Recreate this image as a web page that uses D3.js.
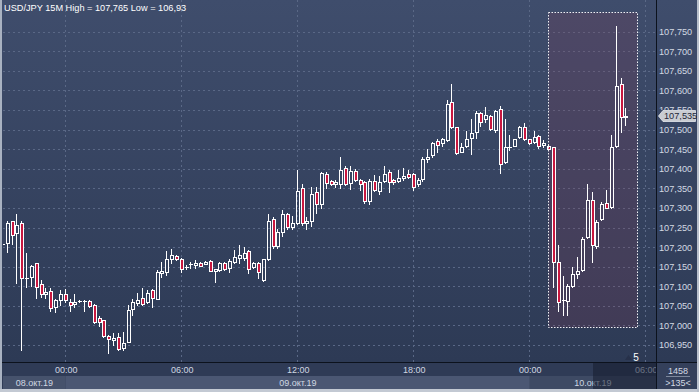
<!DOCTYPE html>
<html><head><meta charset="utf-8">
<script src="https://cdn.jsdelivr.net/npm/d3@7"></script>
<style>html,body{margin:0;padding:0;background:#34415d;overflow:hidden}svg{display:block}text{font-family:"Liberation Sans",Arial,sans-serif}</style>
</head><body><svg id="c" width="699" height="392"></svg>
<script>
// ---------------- data ----------------
const symbol = "USD/JPY 15M";
const firstBar = "2019-10-08T20:45:00Z";   // 15-minute bars
const opens = [107.208,107.210,107.266,107.235,107.262,107.122,107.124,107.159,107.106,107.080,
107.089,107.047,107.065,107.079,107.061,107.054,107.063,107.063,107.063,107.052,
107.018,107.014,106.974,106.963,106.970,106.943,106.958,107.041,107.058,107.069,
107.059,107.090,107.067,107.135,107.137,107.169,107.178,107.169,107.150,107.156,
107.154,107.159,107.157,107.164,107.139,107.141,107.159,107.147,107.163,107.173,
107.171,107.190,107.148,107.159,107.116,107.169,107.271,107.203,107.239,107.284,
107.251,107.261,107.350,107.261,107.267,107.341,107.310,107.387,107.370,107.360,
107.361,107.401,107.364,107.395,107.371,107.365,107.318,107.370,107.344,107.370,
107.391,107.371,107.370,107.376,107.387,107.387,107.360,107.373,107.425,107.434,
107.471,107.465,107.474,107.570,107.506,107.444,107.459,107.479,107.495,107.542,
107.526,107.535,107.499,107.552,107.417,107.455,107.459,107.480,107.506,107.475,
107.469,107.484,107.461,107.459,107.455,107.163,107.064,107.063,107.101,107.131,
107.141,107.225,107.320,107.203,107.271,107.313,107.303,107.458,107.617,107.533];
const highs = [107.210,107.267,107.267,107.285,107.266,107.185,107.154,107.159,107.116,107.096,
107.096,107.067,107.090,107.092,107.067,107.080,107.065,107.065,107.065,107.055,
107.025,107.015,106.975,106.981,106.980,106.984,107.053,107.067,107.084,107.095,
107.090,107.093,107.141,107.162,107.190,107.195,107.180,107.171,107.154,107.162,
107.166,107.162,107.164,107.166,107.145,107.162,107.162,107.170,107.193,107.205,
107.201,107.193,107.162,107.162,107.170,107.285,107.277,107.246,107.295,107.287,
107.279,107.397,107.361,107.278,107.354,107.354,107.392,107.393,107.371,107.371,
107.429,107.407,107.407,107.399,107.374,107.369,107.374,107.384,107.382,107.407,
107.398,107.374,107.398,107.403,107.397,107.389,107.376,107.431,107.451,107.468,
107.476,107.479,107.576,107.617,107.507,107.465,107.497,107.526,107.548,107.544,
107.557,107.537,107.550,107.560,107.526,107.486,107.477,107.508,107.518,107.477,
107.497,107.486,107.474,107.461,107.456,107.205,107.126,107.106,107.150,107.175,
107.227,107.361,107.341,107.269,107.316,107.346,107.486,107.765,107.632,107.554];
const lows = [107.205,107.188,107.208,107.109,106.937,107.099,107.101,107.069,107.073,107.070,
107.037,107.034,107.052,107.060,107.038,107.047,107.060,107.037,107.048,107.006,
106.998,106.970,106.930,106.950,106.937,106.938,106.957,107.027,107.052,107.053,
107.057,107.048,107.067,107.124,107.129,107.159,107.168,107.137,107.144,107.147,
107.147,107.152,107.156,107.139,107.110,107.138,107.141,107.137,107.159,107.159,
107.167,107.135,107.147,107.120,107.113,107.167,107.198,107.197,107.228,107.246,
107.246,107.259,107.256,107.245,107.254,107.288,107.299,107.350,107.359,107.354,
107.350,107.359,107.348,107.369,107.346,107.313,107.309,107.343,107.336,107.366,
107.340,107.361,107.366,107.371,107.376,107.346,107.356,107.369,107.418,107.429,
107.443,107.458,107.471,107.504,107.438,107.442,107.456,107.438,107.479,107.510,
107.520,107.499,107.495,107.390,107.415,107.448,107.457,107.479,107.474,107.463,
107.467,107.454,107.455,107.448,107.099,107.037,107.027,107.027,107.098,107.121,
107.139,107.223,107.163,107.198,107.269,107.299,107.300,107.456,107.495,107.511];
const closes = [107.208,107.262,107.230,107.256,107.120,107.122,107.153,107.099,107.080,107.085,
107.044,107.065,107.081,107.065,107.052,107.059,107.063,107.062,107.050,107.010,
107.009,106.974,106.965,106.968,106.940,106.954,107.039,107.059,107.065,107.055,
107.084,107.069,107.137,107.139,107.169,107.180,107.170,107.143,107.150,107.157,
107.160,107.153,107.163,107.140,107.144,107.159,107.143,107.164,107.175,107.180,
107.186,107.143,107.159,107.137,107.169,107.267,107.203,107.239,107.284,107.251,
107.261,107.344,107.261,107.267,107.336,107.310,107.388,107.364,107.361,107.365,
107.397,107.361,107.395,107.371,107.361,107.318,107.370,107.346,107.365,107.387,
107.365,107.365,107.376,107.382,107.380,107.354,107.371,107.424,107.430,107.465,
107.461,107.475,107.565,107.506,107.440,107.455,107.476,107.491,107.543,107.520,
107.537,107.501,107.548,107.411,107.455,107.456,107.475,107.506,107.475,107.465,
107.480,107.459,107.465,107.450,107.163,107.060,107.065,107.101,107.131,107.139,
107.220,107.320,107.205,107.265,107.309,107.301,107.455,107.611,107.531,107.535];
const priceTicks = [106.95,107.00,107.05,107.10,107.15,107.20,107.25,107.30,107.35,107.40,
107.45,107.50,107.55,107.60,107.65,107.70,107.75];
const timeTicks = ["2019-10-09T00:00:00Z","2019-10-09T06:00:00Z","2019-10-09T12:00:00Z",
"2019-10-09T18:00:00Z","2019-10-10T00:00:00Z","2019-10-10T06:00:00Z"];
const dayStarts = ["2019-10-08T00:00:00Z","2019-10-09T00:00:00Z","2019-10-10T00:00:00Z"];
const dayLabels = ["08.окт.19","09.окт.19","10.окт.19"];
const selStart = "2019-10-10T01:00:00Z", selEnd = "2019-10-10T05:30:00Z";
const selHigh = 107.800, selLow = 106.995;
const cornerTop = "1458", cornerBottom = ">135<", markerLabel = "5";

// ---------------- setup ----------------
const W = 699, H = 392, L = 3, R = 656, T = 0, B = 362;
const svg = d3.select("#c");
const loc = d3.formatLocale({decimal: ",", thousands: "\u00a0", grouping: [3], currency: ["", ""]});
const f3 = loc.format(".3f"), f3t = loc.format(".3~f");
const t0 = new Date(firstBar);
const times = opens.map((d, i) => new Date(t0.getTime() + i * 15 * 60000));
const x = d3.scaleUtc().domain([t0, new Date(t0.getTime() + 133 * 15 * 60000)]).range([3, 645.8]);
const y = d3.scaleLinear().domain([106.95, 107.75]).range([345, 31.7]);

const defs = svg.append("defs");
const g1 = defs.append("linearGradient").attr("id", "bg").attr("x1", 0).attr("x2", 0).attr("y1", 0).attr("y2", 1);
g1.append("stop").attr("offset", 0).attr("stop-color", "#3f4d6c");
g1.append("stop").attr("offset", 1).attr("stop-color", "#2d3a55");
defs.append("clipPath").attr("id", "plot").append("rect").attr("x", L).attr("y", T).attr("width", R - L).attr("height", B - T);
defs.append("clipPath").attr("id", "taxis").append("rect").attr("x", L).attr("y", 0).attr("width", R - L).attr("height", 30);

svg.append("rect").attr("x", 0).attr("y", 0).attr("width", W).attr("height", B).attr("fill", "url(#bg)");

// gridlines
const grid = svg.append("g").attr("clip-path", "url(#plot)");
grid.selectAll("line.h").data(priceTicks).join("line")
  .attr("x1", L).attr("x2", R).attr("y1", d => Math.round(y(d)) + 0.5).attr("y2", d => Math.round(y(d)) + 0.5)
  .attr("stroke", "#5a6886").attr("stroke-dasharray", "2,3");
grid.selectAll("line.v").data(timeTicks.map(d => new Date(d))).join("line")
  .attr("x1", d => Math.round(x(d)) - 0.5).attr("x2", d => Math.round(x(d)) - 0.5).attr("y1", T).attr("y2", B)
  .attr("stroke", "#5a6886").attr("stroke-dasharray", "2,3");

// selection box
const sx0 = Math.round(x(new Date(selStart))) - 0.5, sx1 = Math.round(x(new Date(selEnd))) + 1.5;
const sy0 = Math.round(y(selHigh)) + 0.5, sy1 = Math.round(y(selLow)) + 0.5;
svg.append("rect").attr("x", sx0).attr("y", sy0).attr("width", sx1 - sx0).attr("height", sy1 - sy0)
  .attr("fill", "rgba(130,60,85,0.22)");

// candles
const cg = svg.append("g").attr("clip-path", "url(#plot)");
opens.forEach((o, i) => {
  const c = Math.round(x(times[i]));
  const h = highs[i], l = lows[i], cl = closes[i];
  const wx = c - 0.5;
  const yt = Math.round(y(Math.max(o, cl))) + 0.5, yb = Math.round(y(Math.min(o, cl))) + 0.5;
  const yh = Math.round(y(h)), yl = Math.round(y(l)) + 1;
  if (yh < yt) cg.append("line").attr("x1", wx).attr("x2", wx).attr("y1", yh).attr("y2", yt).attr("stroke", "#ffffff");
  if (yl > yb) cg.append("line").attr("x1", wx).attr("x2", wx).attr("y1", yb).attr("y2", yl).attr("stroke", "#ffffff");
  if (yb - yt < 1) {
    cg.append("line").attr("x1", c - 2).attr("x2", c + 2).attr("y1", yt).attr("y2", yt).attr("stroke", "#ffffff");
  } else {
    cg.append("rect").attr("x", c - 1.5).attr("y", yt).attr("width", 3).attr("height", yb - yt)
      .attr("fill", cl < o ? "#c8173f" : "none").attr("stroke", "#ffffff").attr("stroke-width", 1);
  }
});

svg.append("rect").attr("x", sx0).attr("y", sy0).attr("width", sx1 - sx0).attr("height", sy1 - sy0)
  .attr("fill", "none").attr("stroke", "#f0f0f4").attr("stroke-dasharray", "1.5,1.5");

// header
svg.append("text").attr("x", 4).attr("y", 11).attr("fill", "#ffffff").attr("font-size", "9.2px")
  .text(`${symbol} High = ${f3t(d3.max(highs))} Low = ${f3t(d3.min(lows))}`);

// right axis
const last = closes[closes.length - 1], ly = Math.round(y(last));
const ra = svg.append("g").attr("transform", `translate(${R + 1},0)`)
  .call(d3.axisRight(y).tickValues(priceTicks).tickFormat(f3).tickSize(0).tickPadding(2));
ra.select(".domain").remove();
ra.selectAll("text").attr("fill", "#d3d9e3").attr("font-size", "9.2px").attr("font-family", "Liberation Sans, Arial, sans-serif");
// the label hidden under the price tag shows only its top sliver
defs.append("clipPath").attr("id", "tagcut").append("rect").attr("x", -5).attr("y", -20).attr("width", 60).attr("height", 20 + (ly - 6.5) - y(107.55));
ra.selectAll(".tick").filter(d => Math.abs(y(d) - ly) < 9).select("text").attr("clip-path", "url(#tagcut)");

// current price tag
svg.append("path").attr("d", `M658.5,${ly} L663,${ly - 5.5} L695.5,${ly - 5.5} L695.5,${ly + 5.5} L663,${ly + 5.5} Z`)
  .attr("fill", "#c9ccd2").attr("stroke", "#e6e8ec").attr("stroke-width", 0.8);
svg.append("text").attr("x", 664).attr("y", ly + 3.4).attr("font-size", "9.2px").attr("fill", "#1e2638").text(f3(last));

// bottom bands
svg.append("rect").attr("x", 0).attr("y", B).attr("width", W).attr("height", 27).attr("fill", "#2f3b56");
const dayX = dayStarts.map(d => {
  const s = new Date(d), e = new Date(s.getTime() + 86400000);
  return [Math.max(L, x(s)), Math.min(R, x(e))];
});
const dayFill = ["#46526c", "#4b5773", "#3e4a64"];
svg.selectAll("rect.day").data(dayX).join("rect").attr("x", d => d[0]).attr("y", 376)
  .attr("width", d => d[1] - d[0]).attr("height", 13).attr("fill", (d, i) => dayFill[i]);
svg.selectAll("text.day").data(dayX).join("text").attr("x", d => (d[0] + d[1]) / 2).attr("y", 386)
  .attr("text-anchor", "middle").attr("font-size", "9px").attr("fill", "#d0d7e2").text((d, i) => dayLabels[i]);

const ta = svg.append("g").attr("transform", `translate(0,${B + 0.5})`).attr("clip-path", "url(#taxis)")
  .call(d3.axisBottom(x).tickValues(timeTicks.map(d => new Date(d))).tickFormat(d3.utcFormat("%H:%M")).tickSize(0).tickPadding(4));
ta.select(".domain").remove();
ta.selectAll("text").attr("fill", "#d0d7e2").attr("font-size", "9px").attr("font-family", "Liberation Sans, Arial, sans-serif");

// dim overlay at right of time axis
svg.append("rect").attr("x", 593).attr("y", B + 1).attr("width", R - 593).attr("height", 26).attr("fill", "rgba(22,30,48,0.55)");

// frame lines
svg.append("line").attr("x1", 0).attr("x2", W).attr("y1", B + 0.5).attr("y2", B + 0.5).attr("stroke", "#0c121d");
svg.append("line").attr("x1", R + 0.5).attr("x2", R + 0.5).attr("y1", 0).attr("y2", 389).attr("stroke", "#0c121d");
svg.append("rect").attr("x", R + 1).attr("y", B + 1).attr("width", W - R - 1).attr("height", 26).attr("fill", "#34405b");
svg.append("text").attr("x", 678).attr("y", 373.5).attr("text-anchor", "middle").attr("font-size", "9px").attr("fill", "#d3d9e3").text(cornerTop);
svg.append("line").attr("x1", 666).attr("x2", 690).attr("y1", 376.5).attr("y2", 376.5).attr("stroke", "#7d889c");
svg.append("text").attr("x", 678).attr("y", 386).attr("text-anchor", "middle").attr("font-size", "9px").attr("fill", "#d3d9e3").text(cornerBottom);

// marker
svg.append("path").attr("d", "M625,360 L628.5,355 L632,360 Z").attr("fill", "#27314a");
svg.append("text").attr("x", 636).attr("y", 360.5).attr("text-anchor", "middle").attr("font-size", "10px").attr("fill", "#ffffff").text(markerLabel);

// outer border
svg.append("rect").attr("x", 0).attr("y", 0).attr("width", 2).attr("height", H).attr("fill", "#a9b2c1");
svg.append("rect").attr("x", 0).attr("y", 389).attr("width", W).attr("height", 3).attr("fill", "#c3c9d3");
svg.append("rect").attr("x", 697).attr("y", 0).attr("width", 2).attr("height", H).attr("fill", "#b9c0cc");
</script></body></html>
